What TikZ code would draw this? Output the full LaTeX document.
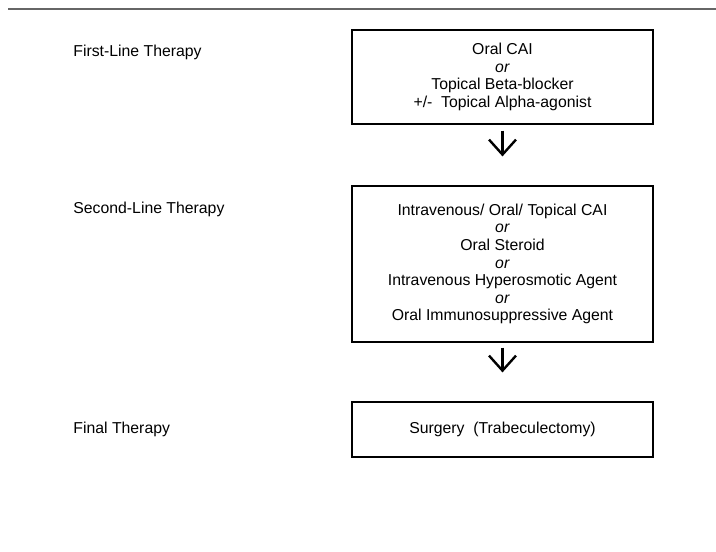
\documentclass[tikz,border=0pt]{standalone}
\usepackage{fontspec}
\setmainfont{Liberation Sans}
\usetikzlibrary{arrows.meta}

\begin{document}
\begin{tikzpicture}[x=0.5pt,y=-0.5pt,
    font=\fontsize{7.9}{8.8}\selectfont,
    therapy/.style={anchor=base west,inner sep=0pt},
    stepbox/.style={draw=black,line width=0.6pt,minimum width=150.5pt,align=center,inner sep=0pt},
    downarrow/.style={-{Straight Barb[length=7.5pt,width=13.5pt]},line width=1.2pt}]
               \useasboundingbox (0,0) rectangle (716,551);
               \draw[color=black!60, line width=0.6pt] (8,9) -- (716,9);
               % left column
               \node[therapy] (first) at (73,57) {First-Line Therapy};
               \node[therapy] (second) at (73,213) {Second-Line Therapy};
               \node[therapy] (final) at (73,433) {Final Therapy};
               % boxes
               \node[stepbox,minimum height=47pt] (oral) at (502.5,77) {Oral CAI\\ \textit{or}\\ Topical Beta-blocker\\ +/-\ \ Topical Alpha-agonist};
               \node[stepbox,minimum height=78pt] (iv) at (502.5,264) {Intravenous/ Oral/ Topical CAI\\ \textit{or}\\ Oral Steroid\\ \textit{or}\\ Intravenous Hyperosmotic Agent\\ \textit{or}\\ Oral Immunosuppressive Agent};
               \node[stepbox,minimum height=27.5pt] (surgery) at (502.5,429.5) {Surgery\ \ (Trabeculectomy)};
               \draw[downarrow, shorten <=3pt, shorten >=14.5pt] (oral) -- (iv);
               \draw[downarrow, shorten <=2.5pt, shorten >=14.5pt] (iv) -- (surgery);
           \end{tikzpicture}
\end{document}
